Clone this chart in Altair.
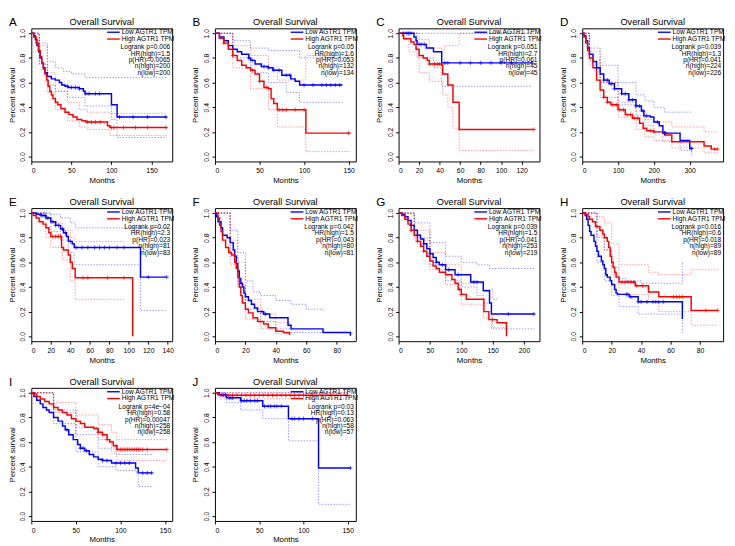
import altair as alt
import pandas as pd

FONT = "Liberation Sans"
BLUE = "#0000FF"
RED = "#FF0000"
PANEL_TITLE = "Overall Survival"

# ---------------- Panel A ----------------
A_LOW = [[0,1],[3,0.98],[5,0.95],[7,0.90],[9,0.85],[11,0.80],[13,0.76],[15,0.72],[17,0.68],[20,0.65],[25,0.63],[30,0.62],[35,0.60],[38,0.58],[42,0.57],[46,0.56],[60,0.55],[65,0.53],[67,0.51],[100,0.42],[107,0.32],[169,0.32]]
A_HIGH = [[0,1],[3,0.97],[6,0.92],[9,0.86],[11,0.81],[13,0.76],[15,0.71],[17,0.67],[19,0.62],[21,0.57],[23,0.53],[25,0.50],[27,0.47],[30,0.44],[33,0.42],[37,0.39],[42,0.36],[47,0.34],[52,0.32],[57,0.30],[63,0.29],[68,0.28],[95,0.25],[98,0.235],[169,0.235]]
A_LOW_UP = [[0,1],[10,0.92],[20,0.77],[30,0.72],[40,0.69],[50,0.67],[67,0.64],[169,0.64]]
A_LOW_LO = [[0,1],[10,0.75],[20,0.58],[30,0.53],[45,0.48],[67,0.41],[100,0.30],[107,0.155],[169,0.155]]
A_HIGH_UP = [[0,1],[10,0.90],[20,0.68],[30,0.53],[45,0.44],[60,0.38],[70,0.36],[98,0.35],[169,0.35]]
A_HIGH_LO = [[0,1],[10,0.75],[20,0.52],[30,0.38],[45,0.29],[60,0.24],[70,0.22],[98,0.17],[169,0.16]]
A_CENS_LOW = [45,50,55,60,68,72,80,85,110,127,145,168]
A_CENS_HIGH = [70,75,80,86,100,103,115,130,145,168]
A_STATS = ["Logrank p=0.006", "HR(high)=1.5", "p(HR)=0.0065", "n(high)=200", "n(low)=200"]
A_TICKS = [0, 50, 100, 150]

# ---------------- Panel B ----------------
B_LOW = [[0,1],[5,0.97],[10,0.94],[15,0.90],[20,0.87],[25,0.85],[30,0.83],[38,0.80],[40,0.78],[45,0.75],[52,0.73],[60,0.72],[65,0.70],[75,0.66],[85,0.63],[90,0.61],[95,0.58],[143,0.58]]
B_HIGH = [[0,1],[5,0.96],[10,0.92],[15,0.87],[20,0.82],[25,0.78],[30,0.74],[35,0.72],[40,0.70],[45,0.67],[50,0.61],[55,0.56],[60,0.55],[63,0.47],[66,0.43],[70,0.38],[102,0.19],[152,0.19]]
B_LOW_UP = [[0,1],[20,0.94],[40,0.88],[60,0.86],[95,0.80],[143,0.77]]
B_LOW_LO = [[0,1],[20,0.80],[40,0.68],[60,0.60],[80,0.52],[95,0.44],[143,0.44]]
B_HIGH_UP = [[0,1],[20,0.90],[40,0.82],[60,0.72],[70,0.62],[102,0.82],[152,0.82]]
B_HIGH_LO = [[0,1],[20,0.72],[40,0.55],[60,0.38],[70,0.24],[102,0.04],[152,0.04]]
B_CENS_LOW = [38,42,55,60,66,72,80,84,100,110,120,125,130,135,140]
B_CENS_HIGH = [10,20,42,50,58,72,76,80,90,100,150]
B_STATS = ["Logrank p=0.05", "HR(high)=1.6", "p(HR)=0.053", "n(high)=132", "n(low)=134"]
B_TICKS = [0, 50, 100, 150]

# ---------------- Panel C ----------------
C_LOW = [[0,1],[15,0.97],[17,0.94],[18,0.91],[27,0.88],[34,0.85],[42,0.76],[130,0.76]]
C_HIGH = [[0,1],[4,0.98],[5,0.955],[12,0.93],[15,0.91],[17,0.87],[20,0.82],[24,0.80],[28,0.78],[30,0.75],[42,0.74],[43,0.67],[48,0.58],[53,0.44],[59,0.22],[132,0.22]]
C_LOW_UP = [[0,1],[130,1]]
C_LOW_LO = [[0,1],[18,0.80],[34,0.72],[42,0.57],[130,0.57]]
C_HIGH_UP = [[0,1],[20,0.95],[30,0.88],[42,0.87],[45,0.90],[59,1.0],[132,1.0]]
C_HIGH_LO = [[0,1],[10,0.85],[20,0.68],[30,0.61],[43,0.50],[48,0.40],[53,0.23],[59,0.05],[132,0.05]]
C_CENS_LOW = [5,8,10,12,20,22,25,45,48,60,70,80,90,100,110,130]
C_CENS_HIGH = [30,35,38,40,132]
C_STATS = ["Logrank p=0.051", "HR(high)=2.7", "p(HR)=0.061", "n(high)=45", "n(low)=45"]
C_TICKS = [0, 20, 40, 60, 80, 100, 120]

# ---------------- Panel D ----------------
D_LOW = [[0,1],[5,0.98],[10,0.94],[15,0.88],[20,0.83],[30,0.77],[40,0.72],[50,0.67],[60,0.62],[75,0.59],[90,0.55],[110,0.51],[130,0.46],[150,0.41],[165,0.37],[172,0.33],[190,0.32],[200,0.28],[215,0.25],[225,0.19],[273,0.13],[300,0.065],[308,0.065]]
D_HIGH = [[0,1],[5,0.97],[10,0.92],[15,0.86],[20,0.80],[30,0.72],[40,0.62],[50,0.54],[60,0.48],[70,0.44],[80,0.42],[100,0.38],[120,0.34],[140,0.31],[160,0.27],[170,0.23],[180,0.21],[200,0.20],[230,0.175],[250,0.12],[340,0.085],[360,0.06],[378,0.06]]
D_LOW_UP = [[0,1],[20,0.88],[50,0.74],[100,0.60],[150,0.50],[175,0.45],[200,0.40],[230,0.36],[305,0.36]]
D_LOW_LO = [[0,1],[20,0.78],[50,0.60],[100,0.42],[150,0.33],[175,0.25],[200,0.20],[225,0.12],[273,0.05],[305,0.01]]
D_HIGH_UP = [[0,1],[20,0.85],[50,0.60],[100,0.44],[150,0.37],[175,0.30],[200,0.28],[250,0.24],[340,0.20],[378,0.20]]
D_HIGH_LO = [[0,1],[20,0.75],[50,0.48],[100,0.32],[150,0.22],[175,0.16],[200,0.13],[250,0.07],[340,0.03],[378,0.02]]
D_CENS_LOW = [40,60,70,80,90,110,120,130,140,150,160,170,180,210,230,232,305]
D_CENS_HIGH = [60,70,85,95,105,115,125,135,145,155,190,200,370,378]
D_STATS = ["Logrank p=0.039", "HR(high)=1.3", "p(HR)=0.041", "n(high)=224", "n(low)=226"]
D_TICKS = [0, 100, 200, 300]

# ---------------- Panel E ----------------
E_LOW = [[0,1],[5,0.99],[10,0.98],[15,0.96],[20,0.93],[25,0.90],[30,0.87],[33,0.84],[36,0.81],[38,0.77],[42,0.75],[44,0.72],[112,0.48],[139,0.48]]
E_HIGH = [[0,1],[2,0.98],[5,0.96],[8,0.93],[12,0.91],[15,0.88],[18,0.84],[20,0.81],[31,0.72],[33,0.70],[38,0.66],[40,0.60],[42,0.55],[45,0.475],[104,0.0]]
E_LOW_UP = [[0,1],[20,0.99],[30,0.96],[40,0.92],[45,0.88],[139,0.88]]
E_LOW_LO = [[0,1],[20,0.85],[30,0.78],[38,0.68],[44,0.58],[112,0.21],[139,0.21]]
E_HIGH_UP = [[0,1],[15,0.96],[20,0.92],[32,0.86],[40,0.80],[45,0.77],[95,0.77]]
E_HIGH_LO = [[0,1],[15,0.80],[20,0.72],[32,0.62],[40,0.45],[45,0.30],[95,0.30]]
E_CENS_LOW = [10,12,14,17,22,25,28,32,35,40,46,52,58,65,70,75,80,88,95,120,139]
E_CENS_HIGH = [22,25,28,30,53,58,78,95]
E_STATS = ["Logrank p=0.02", "HR(high)=2.3", "p(HR)=0.023", "n(high)=81", "n(low)=83"]
E_TICKS = [0, 20, 40, 60, 80, 100, 120, 140]

# ---------------- Panel F ----------------
F_LOW = [[0,1],[1,0.97],[2,0.93],[4,0.88],[5,0.82],[8,0.80],[10,0.76],[12,0.70],[13,0.65],[14,0.59],[15,0.53],[16,0.47],[17,0.43],[18,0.40],[19,0.35],[20,0.32],[22,0.29],[24,0.26],[26,0.23],[28,0.20],[32,0.18],[36,0.15],[48,0.09],[50,0.06],[71,0.03],[89,0.005]]
F_HIGH = [[0,1],[2,0.96],[3,0.90],[4,0.85],[5,0.78],[7,0.72],[9,0.68],[11,0.66],[13,0.60],[14,0.55],[15,0.48],[16,0.40],[17,0.33],[18,0.27],[20,0.22],[22,0.19],[25,0.15],[28,0.12],[32,0.10],[35,0.07],[40,0.04],[45,0.03],[49,0.01]]
F_LOW_UP = [[0,1],[10,0.86],[15,0.68],[20,0.45],[25,0.36],[30,0.33],[40,0.29],[50,0.26],[60,0.22],[71,0.20]]
F_LOW_LO = [[0,1],[10,0.65],[15,0.42],[20,0.22],[30,0.12],[40,0.06],[50,0.03],[90,0.01]]
F_HIGH_UP = [[0,1],[10,0.78],[15,0.60],[20,0.30],[30,0.18],[40,0.11],[49,0.08]]
F_HIGH_LO = [[0,1],[10,0.58],[15,0.40],[20,0.14],[30,0.06],[40,0.02],[49,0.0]]
F_CENS_LOW = [31, 33]
F_CENS_HIGH = []
F_STATS = ["Logrank p=0.042", "HR(high)=1.5", "p(HR)=0.043", "n(high)=80", "n(low)=81"]
F_TICKS = [0, 20, 40, 60, 80]

# ---------------- Panel G ----------------
G_LOW = [[0,1],[5,0.99],[10,0.97],[15,0.94],[20,0.90],[25,0.86],[30,0.82],[35,0.79],[40,0.75],[45,0.71],[50,0.67],[55,0.64],[60,0.60],[65,0.58],[75,0.54],[90,0.50],[115,0.44],[135,0.37],[145,0.27],[148,0.18],[216,0.18]]
G_HIGH = [[0,1],[5,0.98],[10,0.95],[15,0.91],[20,0.86],[25,0.82],[30,0.77],[35,0.73],[40,0.69],[45,0.65],[50,0.61],[55,0.57],[60,0.55],[65,0.52],[75,0.50],[85,0.46],[90,0.43],[95,0.38],[100,0.34],[108,0.30],[136,0.20],[144,0.135],[157,0.11],[172,0.0]]
G_LOW_UP = [[0,1],[25,0.92],[50,0.76],[75,0.65],[100,0.60],[125,0.58],[145,0.55],[216,0.55]]
G_LOW_LO = [[0,1],[25,0.80],[50,0.58],[75,0.45],[100,0.40],[125,0.33],[135,0.27],[148,0.06],[216,0.06]]
G_HIGH_UP = [[0,1],[25,0.86],[50,0.68],[75,0.58],[100,0.43],[135,0.38],[150,0.30],[157,0.29]]
G_HIGH_LO = [[0,1],[25,0.78],[50,0.54],[75,0.42],[100,0.26],[135,0.15],[150,0.07],[172,0.0]]
G_CENS_LOW = [20,30,40,50,60,70,80,95,120,125,175,216]
G_CENS_HIGH = [20,30,40,97,100,150]
G_STATS = ["Logrank p=0.039", "HR(high)=1.5", "p(HR)=0.041", "n(high)=253", "n(low)=219"]
G_TICKS = [0, 50, 100, 150, 200]

# ---------------- Panel H ----------------
H_LOW = [[0,1],[2,0.98],[3,0.95],[4,0.90],[5,0.85],[6,0.82],[8,0.77],[9,0.73],[10,0.69],[11,0.65],[13,0.61],[14,0.58],[15,0.55],[16,0.50],[17,0.48],[19,0.45],[20,0.42],[22,0.38],[23,0.35],[24,0.34],[32,0.32],[38,0.28],[68,0.14]]
H_HIGH = [[0,1],[2,0.99],[4,0.97],[5,0.95],[7,0.93],[9,0.89],[12,0.86],[14,0.83],[15,0.80],[17,0.77],[18,0.72],[19,0.65],[20,0.60],[21,0.56],[22,0.52],[23,0.48],[25,0.44],[36,0.41],[45,0.36],[52,0.32],[74,0.21],[92,0.21]]
H_LOW_UP = [[0,1],[10,0.80],[15,0.70],[20,0.56],[25,0.47],[30,0.45],[40,0.43],[68,0.60]]
H_LOW_LO = [[0,1],[10,0.60],[15,0.45],[20,0.33],[25,0.24],[38,0.18],[68,0.02]]
H_HIGH_UP = [[0,1],[10,0.97],[15,0.92],[20,0.75],[25,0.58],[45,0.52],[52,0.50],[74,0.54],[92,0.54]]
H_HIGH_LO = [[0,1],[10,0.82],[15,0.70],[20,0.50],[25,0.34],[45,0.28],[52,0.20],[74,0.09],[92,0.09]]
H_CENS_LOW = [30,31,33,38,40,44,48,50,52,55]
H_CENS_HIGH = [27,29,31,33,35,37,41,62,64,66,68,84,92]
H_STATS = ["Logrank p=0.016", "HR(high)=0.6", "p(HR)=0.018", "n(high)=89", "n(low)=89"]
H_TICKS = [0, 20, 40, 60, 80]

# ---------------- Panel I ----------------
I_LOW = [[0,1],[3,0.97],[6,0.94],[10,0.91],[13,0.88],[17,0.86],[20,0.84],[25,0.80],[30,0.77],[35,0.73],[38,0.70],[42,0.66],[47,0.62],[52,0.58],[55,0.55],[60,0.53],[65,0.50],[70,0.48],[75,0.46],[80,0.45],[90,0.43],[117,0.39],[120,0.35],[136,0.35]]
I_HIGH = [[0,1],[3,0.99],[6,0.97],[10,0.95],[15,0.93],[20,0.91],[25,0.88],[30,0.86],[35,0.84],[40,0.82],[45,0.79],[50,0.77],[55,0.75],[60,0.72],[70,0.71],[75,0.68],[80,0.66],[85,0.62],[88,0.60],[92,0.57],[96,0.54],[152,0.54]]
I_LOW_UP = [[0,1],[25,0.86],[50,0.66],[75,0.55],[95,0.50],[136,0.50]]
I_LOW_LO = [[0,1],[25,0.75],[50,0.52],[75,0.40],[95,0.37],[118,0.34],[120,0.24],[136,0.24]]
I_HIGH_UP = [[0,1],[25,0.92],[50,0.82],[75,0.74],[90,0.68],[96,0.62],[152,0.62]]
I_HIGH_LO = [[0,1],[25,0.84],[50,0.72],[75,0.62],[90,0.51],[96,0.45],[152,0.45]]
I_CENS_LOW = [40,55,58,62,80,85,95,100,105,110,125,130,135]
I_CENS_HIGH = [75,80,85,95,97,100,102,104,106,108,110,112,114,116,118,120,122,125,130,152]
I_STATS = ["Logrank p=4e\u221204", "HR(high)=0.58", "p(HR)=0.00047", "n(high)=258", "n(low)=258"]
I_TICKS = [0, 50, 100, 150]

# ---------------- Panel J ----------------
J_LOW = [[0,1],[5,0.985],[13,0.96],[29,0.935],[54,0.89],[83,0.79],[117,0.39],[153,0.39]]
J_HIGH = [[0,1],[3,0.985],[5,0.98],[150,0.98]]
J_LOW_UP = [[0,1],[153,1]]
J_LOW_LO = [[0,1],[5,0.97],[13,0.92],[29,0.86],[54,0.79],[83,0.61],[117,0.095],[153,0.095]]
J_HIGH_UP = [[0,1],[150,1]]
J_HIGH_LO = [[0,1],[5,0.95],[150,0.95]]
J_CENS_LOW = [8,10,12,16,18,20,30,33,36,40,45,48,56,60,63,67,70,75,87,90,95,100,110,153]
J_CENS_HIGH = [8,12,15,20,25,30,35,40,45,50,55,60,65,70,75,80,85,90,95,100,110,120,130,150]
J_STATS = ["Logrank p=0.03", "HR(high)=0.13", "p(HR)=0.063", "n(high)=58", "n(low)=57"]
J_TICKS = [0, 50, 100, 150]

LEGEND_LABELS = ["Low AGTR1 TPM", "High AGTR1 TPM"]
Y_TICKS = [0.0, 0.2, 0.4, 0.6, 0.8, 1.0]

W, H = 145, 137
ONE = pd.DataFrame({"k": [0]})


def step_at(curve, t):
    s = curve[0][1]
    for ti, si in curve:
        if ti <= t:
            s = si
        else:
            break
    return s


def panel(letter, low, high, low_up, low_lo, high_up, high_lo, c_low, c_high, stats, ticks):
    xmax = max(low[-1][0], high[-1][0])
    xs = alt.Scale(domain=[0, xmax * 1.04], nice=False, zero=False)
    ys = alt.Scale(domain=[-0.04, 1.04], nice=False, zero=False)
    xax = alt.Axis(values=ticks, title="Months", format="d", labelPadding=2.5, titlePadding=3)
    yax = alt.Axis(values=Y_TICKS, format=".1f", title="Percent survival",
                   labelAngle=-90, labelAlign="center", labelBaseline="bottom",
                   labelPadding=2.5, titlePadding=3)

    def enc(ch):
        return ch.encode(x=alt.X("t:Q", scale=xs, axis=xax),
                         y=alt.Y("s:Q", scale=ys, axis=yax))

    def ci(curve, color):
        return enc(alt.Chart(pd.DataFrame(curve, columns=["t", "s"])).mark_line(
            interpolate="step-after", color=color, strokeWidth=0.9,
            strokeDash=[1.5, 1.5], opacity=0.45))

    def km(curve, color):
        return enc(alt.Chart(pd.DataFrame(curve, columns=["t", "s"])).mark_line(
            interpolate="step-after", color=color, strokeWidth=1.5))

    def cens(curve, times, color):
        df = pd.DataFrame({"t": times, "s": [step_at(curve, t) for t in times]})
        if len(times) == 0:
            df = pd.DataFrame({"t": [], "s": []})
        return enc(alt.Chart(df).mark_point(
            shape="M0,-1L0,1M-1,0L1,0", size=18, filled=False, strokeWidth=1, color=color))

    def vtext(txt, x, y, align="left", baseline="middle", size=6.8):
        return alt.Chart(ONE).mark_text(
            text=txt, align=align, baseline=baseline, fontSize=size, font=FONT,
            color="black", lineBreak="\n", lineHeight=6.6).encode(
            x=alt.value(x), y=alt.value(y))

    def lrule(color, y):
        return alt.Chart(ONE).mark_rule(color=color, strokeWidth=1.4).encode(
            x=alt.value(W - 67), x2=alt.value(W - 54), y=alt.value(y))

    layers = [
        ci(low_up, BLUE), ci(low_lo, BLUE), ci(high_up, RED), ci(high_lo, RED),
        km(low, BLUE), km(high, RED),
        cens(low, c_low, BLUE), cens(high, c_high, RED),
        lrule(BLUE, 4), lrule(RED, 11),
        vtext(LEGEND_LABELS[0], W - 52, 4),
        vtext(LEGEND_LABELS[1], W - 52, 11),
        vtext("\n".join(stats), W - 2, 16.5, align="right", baseline="top"),
        vtext(PANEL_TITLE, W / 2, -6, align="center", size=9.5),
        vtext(letter, -23, -6, size=12),
    ]
    return alt.layer(*layers).properties(width=W, height=H)


panels = [
    panel("A", A_LOW, A_HIGH, A_LOW_UP, A_LOW_LO, A_HIGH_UP, A_HIGH_LO, A_CENS_LOW, A_CENS_HIGH, A_STATS, A_TICKS),
    panel("B", B_LOW, B_HIGH, B_LOW_UP, B_LOW_LO, B_HIGH_UP, B_HIGH_LO, B_CENS_LOW, B_CENS_HIGH, B_STATS, B_TICKS),
    panel("C", C_LOW, C_HIGH, C_LOW_UP, C_LOW_LO, C_HIGH_UP, C_HIGH_LO, C_CENS_LOW, C_CENS_HIGH, C_STATS, C_TICKS),
    panel("D", D_LOW, D_HIGH, D_LOW_UP, D_LOW_LO, D_HIGH_UP, D_HIGH_LO, D_CENS_LOW, D_CENS_HIGH, D_STATS, D_TICKS),
    panel("E", E_LOW, E_HIGH, E_LOW_UP, E_LOW_LO, E_HIGH_UP, E_HIGH_LO, E_CENS_LOW, E_CENS_HIGH, E_STATS, E_TICKS),
    panel("F", F_LOW, F_HIGH, F_LOW_UP, F_LOW_LO, F_HIGH_UP, F_HIGH_LO, F_CENS_LOW, F_CENS_HIGH, F_STATS, F_TICKS),
    panel("G", G_LOW, G_HIGH, G_LOW_UP, G_LOW_LO, G_HIGH_UP, G_HIGH_LO, G_CENS_LOW, G_CENS_HIGH, G_STATS, G_TICKS),
    panel("H", H_LOW, H_HIGH, H_LOW_UP, H_LOW_LO, H_HIGH_UP, H_HIGH_LO, H_CENS_LOW, H_CENS_HIGH, H_STATS, H_TICKS),
    panel("I", I_LOW, I_HIGH, I_LOW_UP, I_LOW_LO, I_HIGH_UP, I_HIGH_LO, I_CENS_LOW, I_CENS_HIGH, I_STATS, I_TICKS),
    panel("J", J_LOW, J_HIGH, J_LOW_UP, J_LOW_LO, J_HIGH_UP, J_HIGH_LO, J_CENS_LOW, J_CENS_HIGH, J_STATS, J_TICKS),
]

chart = alt.concat(*panels, columns=4, spacing={"row": 11, "column": 16}).configure(
    background="white", padding=0
).configure_view(
    stroke="black", strokeWidth=1
).configure_axis(
    grid=False, domain=False, tickColor="black", tickSize=3, tickWidth=1,
    labelColor="black", titleColor="black", labelFont=FONT, titleFont=FONT,
    labelFontSize=7, titleFontSize=8, titleFontWeight="normal"
)

chart.save("out.html", embed_options={"renderer": "svg", "actions": False})
